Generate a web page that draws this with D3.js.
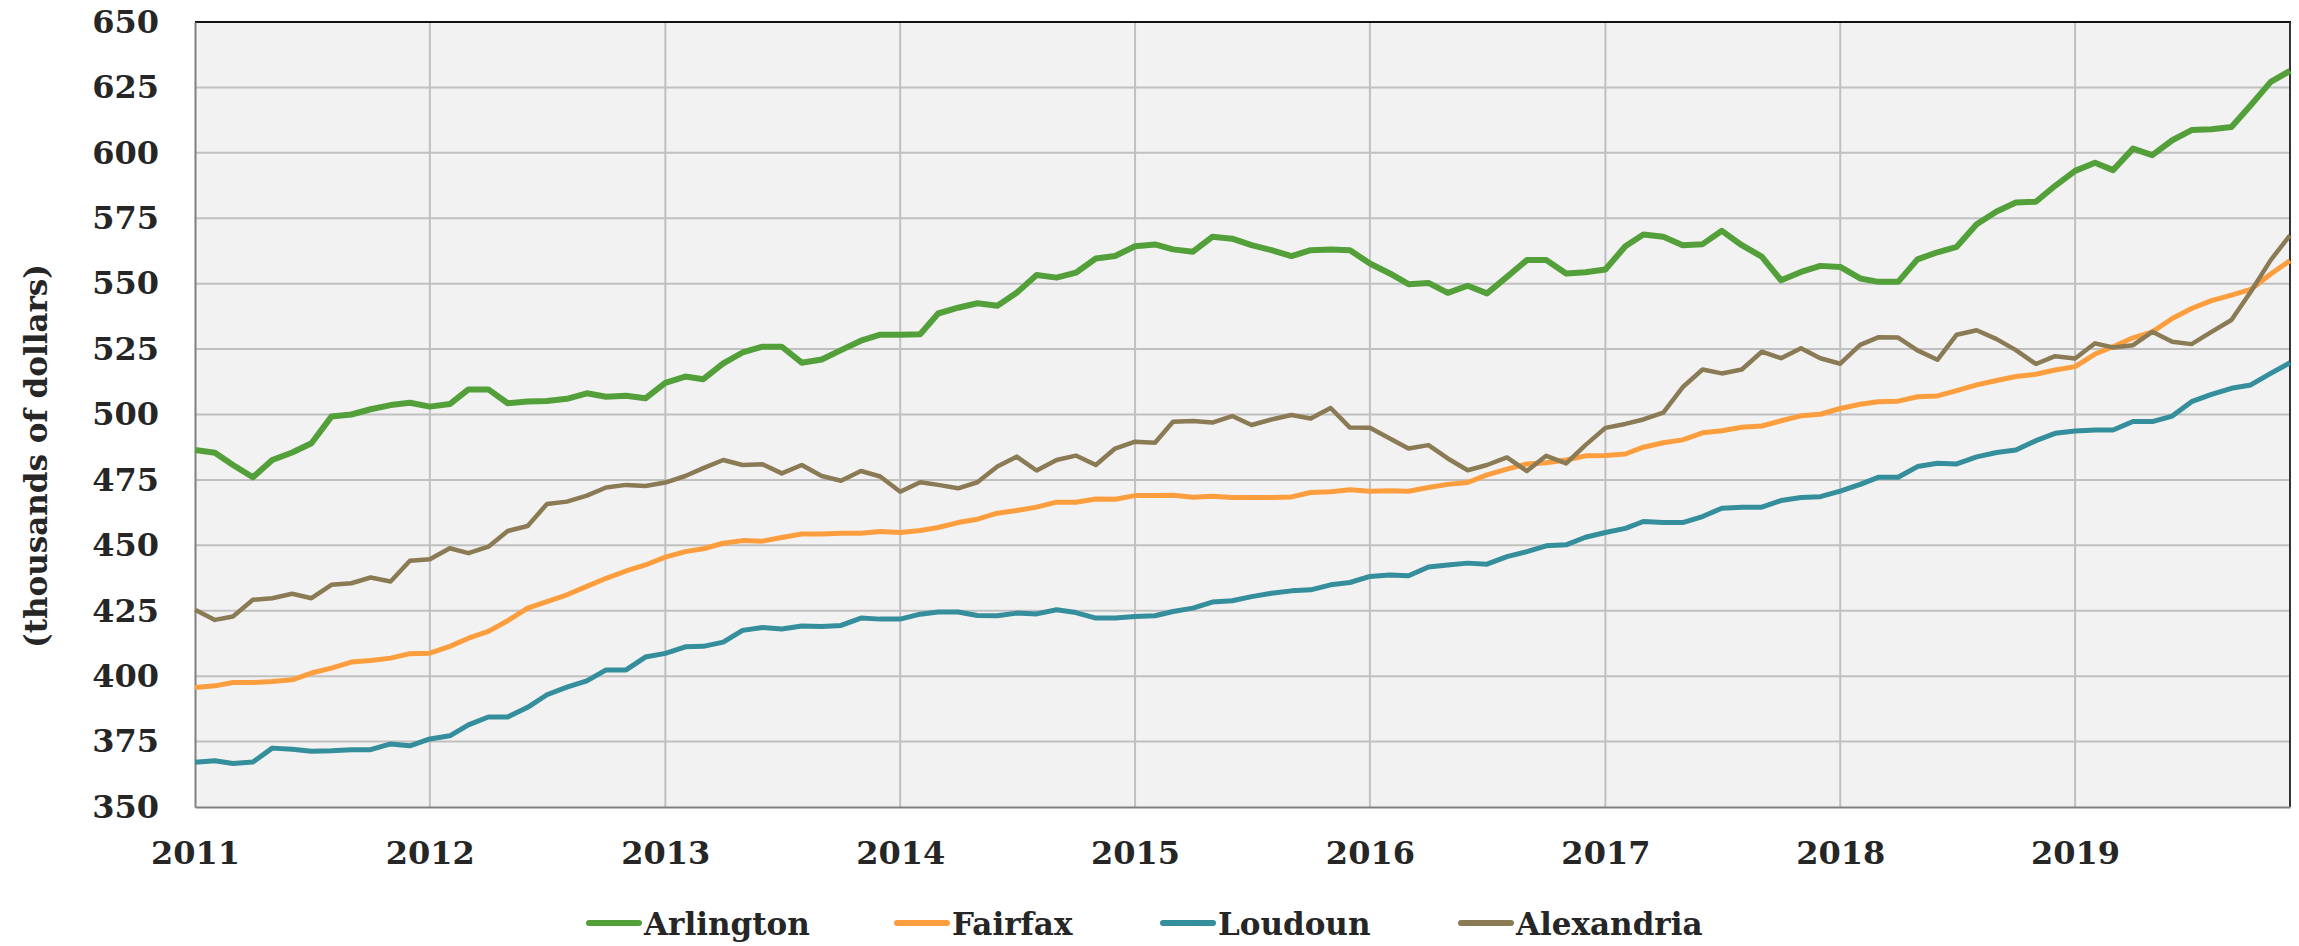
<!DOCTYPE html>
<html>
<head>
<meta charset="utf-8">
<script src="https://cdn.jsdelivr.net/npm/d3@7"></script>
<style>
  html, body { margin: 0; padding: 0; background: #ffffff; }
  svg { display: block; }
  text { font-family: "DejaVu Serif", "Liberation Serif", serif; font-weight: bold; fill: #262626; }
</style>
</head>
<body>
<svg id="chart" width="2299" height="946"></svg>
<script>
// ---- Data (monthly, Jan 2011 - Dec 2019), thousands of dollars ----
const seriesNames = ["Arlington", "Fairfax", "Loudoun", "Alexandria"];
const seriesColors = ["#53a03b", "#fd9e3e", "#348e9b", "#8a7b55"];
const yTicks = [350, 375, 400, 425, 450, 475, 500, 525, 550, 575, 600, 625, 650];
const xTickYears = [2011, 2012, 2013, 2014, 2015, 2016, 2017, 2018, 2019];

const arlington = [
  486.4, 485.4, 480.7, 476.0, 482.6, 485.5, 489.0, 499.2, 500.0, 502.0, 503.6, 504.5,
  503.0, 504.0, 509.6, 509.6, 504.3, 505.0, 505.2, 506.0, 508.1, 506.8, 507.2, 506.2,
  512.1, 514.5, 513.5, 519.5, 523.7, 525.9, 525.9, 519.8, 521.0, 524.6, 528.2, 530.5,
  530.5, 530.7, 538.6, 540.8, 542.5, 541.6, 546.5, 553.3, 552.3, 554.2, 559.6, 560.6,
  564.3, 565.0, 563.1, 562.2, 567.9, 567.2, 564.7, 562.8, 560.5, 562.8, 563.1, 562.8,
  557.7, 553.9, 549.8, 550.3, 546.5, 549.2, 546.3, 552.6, 559.0, 559.0, 553.9, 554.4,
  555.4, 564.3, 568.8, 567.9, 564.7, 565.1, 570.2, 564.7, 560.3, 551.3, 554.5, 556.8,
  556.4, 552.0, 550.7, 550.7, 559.3, 562.0, 564.1, 572.7, 577.6, 581.0, 581.3, 587.4,
  593.1, 596.2, 593.4, 601.6, 599.1, 604.8, 608.7, 609.0, 609.9, 618.2, 627.1, 631.3
];
const fairfax = [
  395.7, 396.3, 397.6, 397.6, 398.0, 398.6, 401.2, 403.1, 405.4, 406.0, 406.9, 408.6,
  408.8, 411.4, 414.5, 417.1, 421.2, 426.0, 428.5, 431.1, 434.3, 437.4, 440.2, 442.5,
  445.5, 447.6, 448.7, 450.8, 451.8, 451.6, 453.0, 454.3, 454.3, 454.6, 454.6, 455.3,
  454.9, 455.7, 456.8, 458.7, 460.0, 462.3, 463.3, 464.6, 466.5, 466.5, 467.7, 467.6,
  469.0, 469.0, 469.1, 468.4, 468.8, 468.3, 468.3, 468.3, 468.5, 470.2, 470.5, 471.2,
  470.7, 470.9, 470.7, 472.1, 473.3, 474.0, 476.9, 479.1, 481.1, 481.6, 482.6, 484.2,
  484.3, 484.9, 487.5, 489.2, 490.3, 493.0, 493.8, 495.1, 495.6, 497.6, 499.5, 500.1,
  502.3, 503.9, 504.9, 505.1, 506.8, 507.1, 509.1, 511.3, 513.0, 514.5, 515.4, 517.0,
  518.3, 523.1, 525.9, 529.3, 531.6, 536.7, 540.5, 543.5, 545.6, 547.8, 553.7, 558.8
];
const loudoun = [
  367.1, 367.7, 366.6, 367.2, 372.5, 372.1, 371.3, 371.5, 371.9, 371.9, 374.1, 373.4,
  376.0, 377.2, 381.4, 384.4, 384.4, 388.1, 392.9, 395.8, 398.2, 402.4, 402.4, 407.3,
  408.7, 411.2, 411.4, 413.0, 417.5, 418.6, 418.0, 419.2, 419.0, 419.4, 422.2, 421.8,
  421.8, 423.7, 424.5, 424.5, 423.2, 423.1, 424.1, 423.8, 425.4, 424.3, 422.2, 422.2,
  422.8, 423.1, 424.7, 426.0, 428.3, 428.8, 430.4, 431.7, 432.6, 433.0, 434.9, 435.8,
  438.1, 438.7, 438.4, 441.7, 442.5, 443.2, 442.8, 445.7, 447.6, 449.8, 450.2, 453.1,
  454.9, 456.5, 459.1, 458.7, 458.7, 461.0, 464.2, 464.6, 464.6, 467.1, 468.3, 468.6,
  470.7, 473.3, 476.0, 476.0, 480.1, 481.4, 481.1, 483.8, 485.5, 486.4, 490.0, 492.8,
  493.7, 494.1, 494.1, 497.3, 497.3, 499.4, 504.9, 507.7, 510.0, 511.3, 515.7, 519.8
];
const alexandria = [
  425.4, 421.5, 422.8, 429.2, 429.8, 431.5, 429.8, 434.9, 435.5, 437.7, 436.2, 444.1,
  444.7, 448.9, 447.0, 449.5, 455.5, 457.4, 465.8, 466.7, 469.0, 472.1, 473.1, 472.7,
  474.0, 476.5, 479.5, 482.6, 480.7, 481.0, 477.5, 480.7, 476.5, 474.7, 478.4, 476.3,
  470.5, 474.1, 473.1, 471.8, 474.1, 480.1, 483.9, 478.6, 482.6, 484.3, 480.7, 487.0,
  489.6, 489.2, 497.2, 497.5, 496.9, 499.4, 496.0, 498.1, 499.8, 498.5, 502.5, 495.0,
  494.9, 490.8, 487.0, 488.3, 483.2, 478.7, 480.7, 483.6, 478.4, 484.2, 481.3, 488.3,
  494.9, 496.4, 498.1, 500.7, 510.4, 517.2, 515.7, 517.2, 524.0, 521.5, 525.3, 521.5,
  519.4, 526.6, 529.5, 529.4, 524.5, 520.9, 530.5, 532.2, 528.8, 524.6, 519.3, 522.3,
  521.4, 527.2, 525.6, 526.5, 531.6, 527.8, 526.9, 531.6, 536.1, 546.9, 559.0, 568.5
];
const seriesValues = [arlington, fairfax, loudoun, alexandria];
const months = d3.range(arlington.length).map(i => new Date(2011, i, 1));

// ---- Layout ----
const svg = d3.select("#chart");
const pLeft = 195, pRight = 2290, pTop = 22, pBottom = 807;
const lineWidths = [6, 5, 5, 4.5];

const x = d3.scaleTime().domain([months[0], months[months.length - 1]]).range([pLeft, pRight]);
const y = d3.scaleLinear().domain([350, 650]).range([pBottom, pTop]);

// plot background
svg.append("rect").attr("x", pLeft).attr("y", pTop)
  .attr("width", pRight - pLeft).attr("height", pBottom - pTop).attr("fill", "#f2f2f2");

// horizontal gridlines
svg.append("g").selectAll("line").data(yTicks.filter(v => v > 350 && v < 650)).join("line")
  .attr("x1", pLeft).attr("x2", pRight)
  .attr("y1", d => y(d)).attr("y2", d => y(d))
  .attr("stroke", "#c0c0c0").attr("stroke-width", 2);

// vertical gridlines
svg.append("g").selectAll("line").data(xTickYears.slice(1)).join("line")
  .attr("x1", d => x(new Date(d, 0, 1))).attr("x2", d => x(new Date(d, 0, 1)))
  .attr("y1", pTop).attr("y2", pBottom)
  .attr("stroke", "#c0c0c0").attr("stroke-width", 2);

// frame: top & right dark
svg.append("line").attr("x1", pLeft).attr("x2", pRight + 1).attr("y1", pTop).attr("y2", pTop)
  .attr("stroke", "#111").attr("stroke-width", 2);
svg.append("line").attr("x1", pRight).attr("x2", pRight).attr("y1", pTop).attr("y2", pBottom)
  .attr("stroke", "#333").attr("stroke-width", 2);

// Y axis
const yAxis = d3.axisLeft(y).tickValues(yTicks).tickSize(0).tickPadding(36);
const gy = svg.append("g").attr("transform", `translate(${pLeft},0)`).call(yAxis);
gy.select(".domain").attr("stroke", "#808080").attr("stroke-width", 2);
gy.selectAll("text").style("font-size", "32px").attr("fill", "#262626")
  .style("font-family", '"DejaVu Serif", serif').style("font-weight", "bold");

// X axis
const xAxis = d3.axisBottom(x).tickValues(xTickYears.map(yr => new Date(yr, 0, 1)))
  .tickFormat(d3.timeFormat("%Y")).tickSize(0).tickPadding(34);
const gx = svg.append("g").attr("transform", `translate(0,${pBottom})`).call(xAxis);
gx.select(".domain").attr("stroke", "#808080").attr("stroke-width", 2);
gx.selectAll("text").style("font-size", "32px").attr("fill", "#262626")
  .style("font-family", '"DejaVu Serif", serif').style("font-weight", "bold");

// lines
const lineGen = d3.line().x((d, i) => x(months[i])).y(d => y(d));
seriesValues.forEach((vals, k) => {
  svg.append("path").datum(vals)
    .attr("d", lineGen)
    .attr("fill", "none")
    .attr("stroke", seriesColors[k])
    .attr("stroke-width", lineWidths[k])
    .attr("stroke-linejoin", "round")
    .attr("stroke-linecap", "butt");
});

// Y title
svg.append("text")
  .attr("transform", "translate(36,456) rotate(-90)")
  .attr("text-anchor", "middle")
  .attr("dominant-baseline", "central")
  .style("font-size", "31px")
  .text("(thousands of dollars)");

const legStarts = [586, 894, 1160, 1458];
const legY = 923;
const leg = svg.append("g");
seriesNames.forEach((name, k) => {
  const g = leg.append("g").attr("transform", `translate(${legStarts[k]},0)`);
  g.append("line").attr("x1", 3).attr("x2", 53).attr("y1", legY).attr("y2", legY)
    .attr("stroke", seriesColors[k]).attr("stroke-width", 6).attr("stroke-linecap", "round");
  g.append("text").attr("x", 58).attr("y", 935)
    .style("font-size", "31px").text(name);
});
</script>
</body>
</html>
